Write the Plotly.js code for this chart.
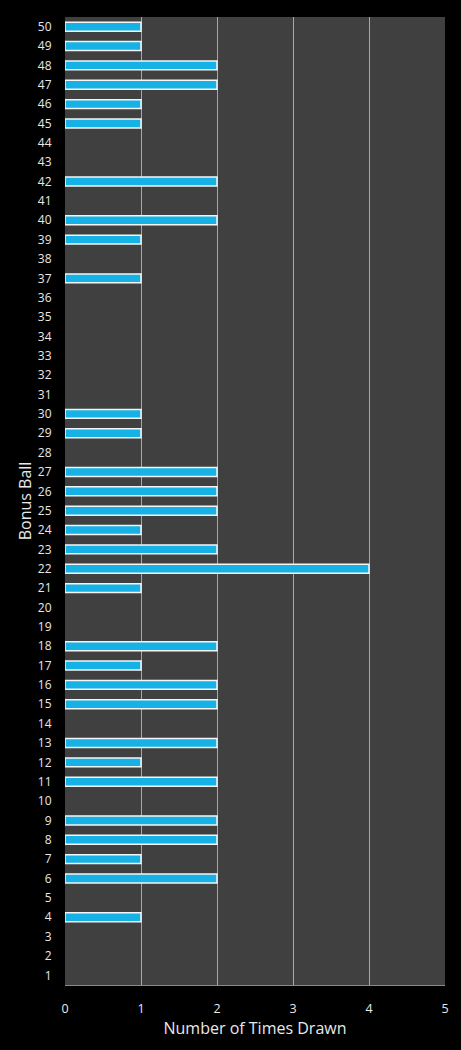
<!DOCTYPE html>
<html>
<head>
<meta charset="utf-8">
<script src="https://cdn.plot.ly/plotly-3.0.1.min.js"></script>
<style>html,body{margin:0;padding:0;background:#000;}#chart{width:461px;height:1050px;}</style>
</head>
<body>
<div id="chart"></div>
<script>
const balls = [];
for (let i = 1; i <= 50; i++) balls.push(i);
const timesDrawn = [
  0, 0, 0, 1, 0, 2, 1, 2, 2, 0,   // 1-10
  2, 1, 2, 0, 2, 2, 1, 2, 0, 0,   // 11-20
  1, 4, 2, 1, 2, 2, 2, 0, 1, 1,   // 21-30
  0, 0, 0, 0, 0, 0, 1, 0, 1, 2,   // 31-40
  0, 2, 0, 0, 1, 1, 2, 2, 1, 1    // 41-50
];
const xTicks = [0, 1, 2, 3, 4, 5];

const font = "'Open Sans', 'DejaVu Sans', sans-serif";
const trace = {
  type: 'bar',
  orientation: 'h',
  y: balls,
  x: timesDrawn,
  width: 0.46,
  marker: {
    color: '#16b2e6',
    line: { color: '#f2f6f8', width: timesDrawn.map(v => v > 0 ? 1.5 : 0) }
  },
  hoverinfo: 'x+y'
};
const layout = {
  width: 461, height: 1050,
  paper_bgcolor: '#000000',
  plot_bgcolor: '#404040',
  margin: { l: 65, r: 16, t: 17, b: 65 },
  showlegend: false,
  font: { family: font, color: '#e8e8e8', size: 12 },
  xaxis: {
    range: [0, 5],
    tickvals: xTicks,
    ticktext: xTicks.map(String),
    showgrid: true, gridcolor: '#a8a8a8', gridwidth: 1,
    zeroline: false,
    showline: true, linecolor: '#8a8a8a', linewidth: 1,
    ticks: 'outside', ticklen: 12, tickcolor: 'rgba(0,0,0,0)',
    tickfont: { size: 12.5, color: '#e8e8e8', family: font },
    title: { text: 'Number of Times Drawn', font: { size: 16, color: '#e8e8e8', family: font }, standoff: 6 },
    fixedrange: true
  },
  yaxis: {
    type: 'linear',
    range: [0.5, 50.5],
    tickvals: balls,
    ticktext: balls.map(String),
    showgrid: false,
    zeroline: false,
    showline: false,
    ticks: 'outside', ticklen: 10, tickcolor: 'rgba(0,0,0,0)',
    tickfont: { size: 12, color: '#e8e8e8', family: font },
    title: { text: 'Bonus Ball', font: { size: 16, color: '#e8e8e8', family: font }, standoff: 2 },
    fixedrange: true
  }
};
Plotly.newPlot('chart', [trace], layout, { displayModeBar: false, staticPlot: true });
</script>
</body>
</html>
